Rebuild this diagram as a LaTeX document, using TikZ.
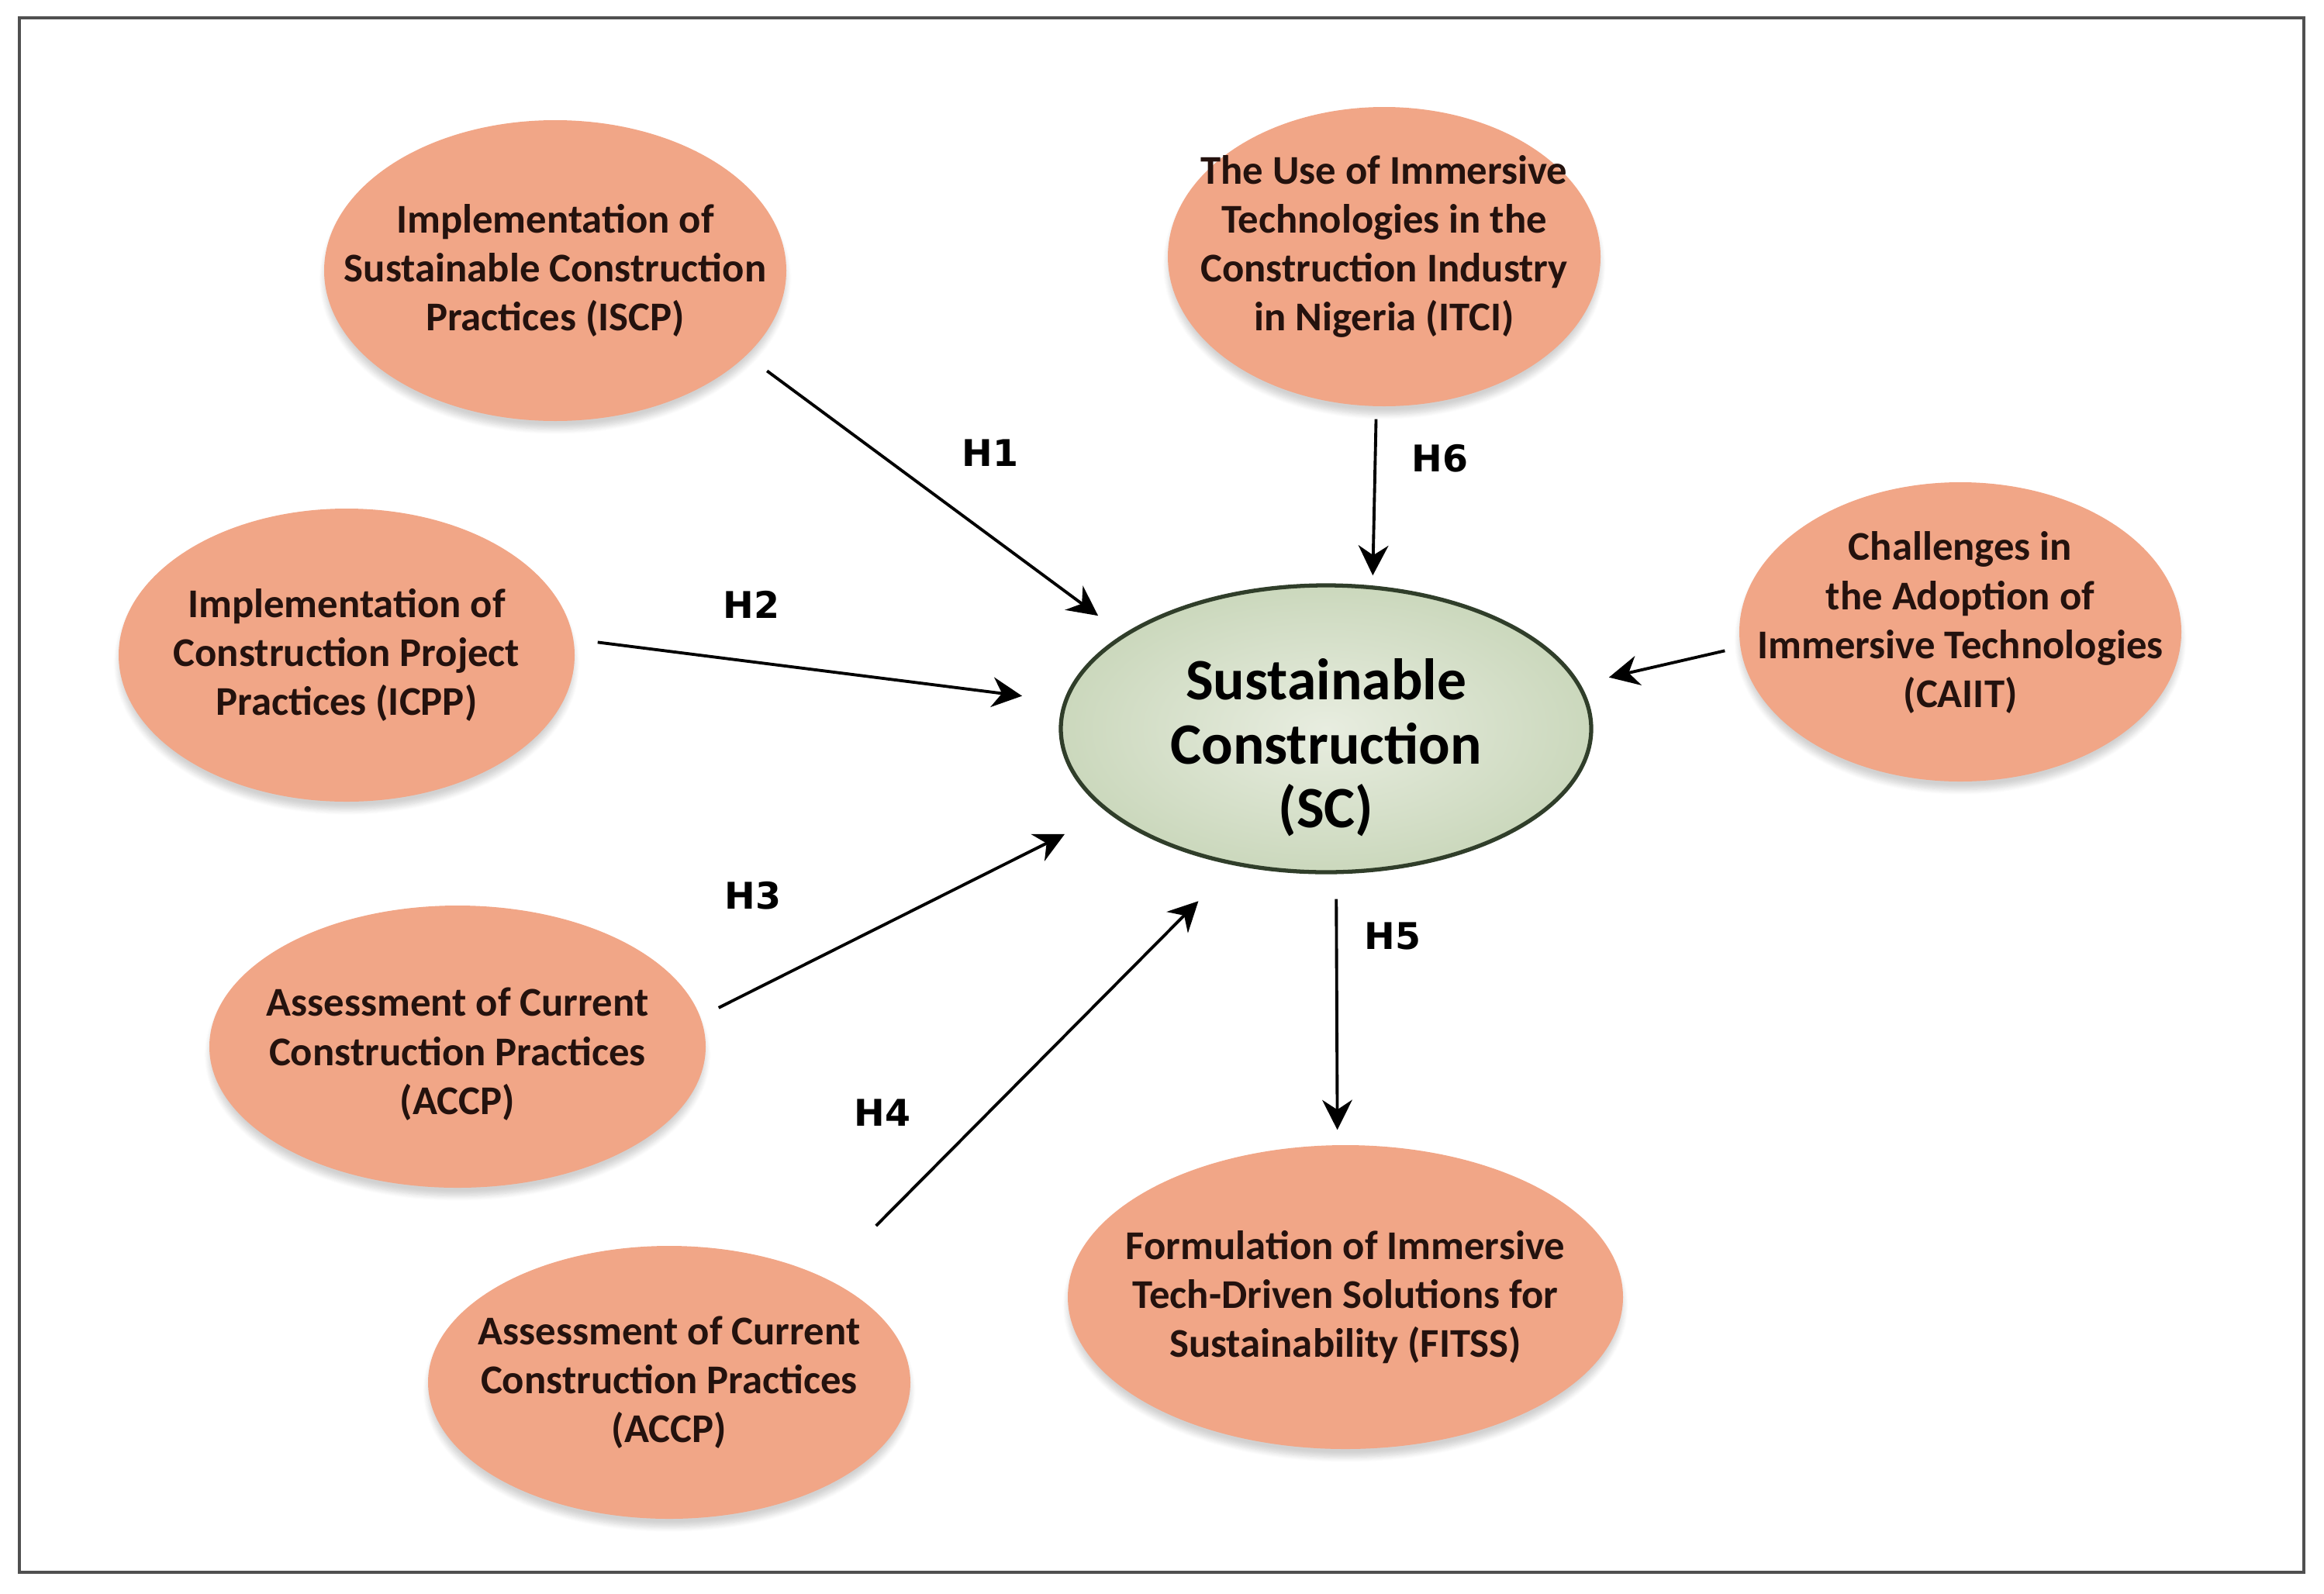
\documentclass[tikz,border=0pt]{standalone}
\usepackage{fontspec}
\setmainfont{Carlito}
\newfontfamily\hypfont{DejaVu Sans}
\usetikzlibrary{arrows.meta,shapes.geometric,shadows.blur}

\definecolor{salmon}{RGB}{241,166,135}
\definecolor{sagelight}{RGB}{232,237,224}
\definecolor{sagedark}{RGB}{174,195,153}
\definecolor{sageedge}{RGB}{48,62,42}
\definecolor{inktext}{RGB}{36,18,14}
\definecolor{framegray}{RGB}{80,80,80}
\pgfdeclareradialshading{sageglow}{\pgfpoint{0bp}{0bp}}{color(0bp)=(sagelight); color(50bp)=(sagedark)}

\begin{document}
\begin{tikzpicture}[node distance=6cm, >={Stealth[length=11pt,width=11pt]},
  factor/.style={ellipse, fill=salmon, text=inktext, align=center, inner xsep=-1cm, inner ysep=0pt,
    font=\bfseries\fontsize{15}{18}\selectfont,
    blur shadow={shadow blur steps=8, shadow xshift=0pt, shadow yshift=-3pt, shadow opacity=18}},
  core/.style={ellipse, draw=sageedge, line width=1.5pt, shading=sageglow, align=center, inner xsep=-1cm, inner ysep=-0.4cm,
    minimum width=6.84cm, minimum height=3.7cm, font=\bfseries\fontsize{21.5}{23.5}\selectfont},
  hyp/.style={text=black, font=\hypfont\bfseries\fontsize{13.5}{16}\selectfont},
  link/.style={->, line width=1.1pt}]
\useasboundingbox (0,0) rectangle (29.97,-20.55);
\draw[framegray, line width=1.3pt] (0.25,-0.23) rectangle (29.71,-20.28);

\node (sc) [core] at (17.10,-9.40) {\rule{0pt}{29pt}Sustainable\\Construction\\(SC)};
\node (iscp) [factor, minimum width=5.96cm, minimum height=3.88cm, left of=sc, xshift=-3.94cm, yshift=5.91cm] {Implementation of\\Sustainable Construction\\Practices (ISCP)};
\node (itci) [factor, minimum width=5.58cm, minimum height=3.86cm, above of=sc, xshift=0.75cm, yshift=0.09cm] {The Use of Immersive\\Technologies in the\\Construction Industry\\in Nigeria (ITCI)\rule[-10pt]{0pt}{10pt}};
\node (icpp) [factor, minimum width=5.88cm, minimum height=3.78cm, left of=sc, xshift=-6.63cm, yshift=0.95cm] {Implementation of\\Construction Project\\Practices (ICPP)};
\node (caiit) [factor, minimum width=5.70cm, minimum height=3.86cm, right of=sc, xshift=2.18cm, yshift=1.25cm] {Challenges in\\the Adoption of\\Immersive Technologies\\(CAIIT)\rule[-9pt]{0pt}{9pt}};
\node (accpa) [factor, minimum width=6.40cm, minimum height=3.64cm, left of=sc, xshift=-5.20cm, yshift=-4.10cm] {\rule{0pt}{16pt}Assessment of Current\\Construction Practices\\(ACCP)};
\node (accpb) [factor, minimum width=6.22cm, minimum height=3.52cm, below of=sc, xshift=-8.47cm, yshift=-2.43cm] {Assessment of Current\\Construction Practices\\(ACCP)};
\node (fitss) [factor, minimum width=7.16cm, minimum height=3.92cm, below of=sc, xshift=0.25cm, yshift=-1.33cm] {Formulation of Immersive\\Tech-Driven Solutions for\\Sustainability (FITSS)};

\node (h1) [hyp, left of=sc, xshift=1.67cm, yshift=3.56cm] {H1};
\node (h2) [hyp, left of=sc, xshift=-1.41cm, yshift=1.60cm] {H2};
\node (h3) [hyp, left of=sc, xshift=-1.39cm, yshift=-2.15cm] {H3};
\node (h4) [hyp, left of=sc, xshift=0.28cm, yshift=-4.95cm] {H4};
\node (h5) [hyp, below of=sc, xshift=0.86cm, yshift=3.32cm] {H5};
\node (h6) [hyp, above of=sc, xshift=1.47cm, yshift=-2.51cm] {H6};

\draw[link, shorten <=0.33cm, shorten >=0.40cm] (iscp.-24.5) -- (sc.155);
\draw[link, shorten <=0.31cm, shorten >=0.54cm] (icpp.4.4) -- (sc.174.4);
\draw[link, shorten <=0.26cm, shorten >=0.62cm] (accpa.7.4) -- (sc.201.6);
\draw[link, shorten <=0.94cm, shorten >=0.65cm] (accpb.34.6) -- (sc.236.8);
\draw[link, shorten <=0.32cm, shorten >=0.19cm] (sc.-86.8) -- (fitss.93.5);
\draw[link, shorten <=0.16cm, shorten >=0.13cm] (itci.-93.3) -- (sc.72.1);
\draw[link, shorten <=0.20cm, shorten >=0.38cm] (caiit.184.9) -- (sc.10.5);

\end{tikzpicture}
\end{document}
